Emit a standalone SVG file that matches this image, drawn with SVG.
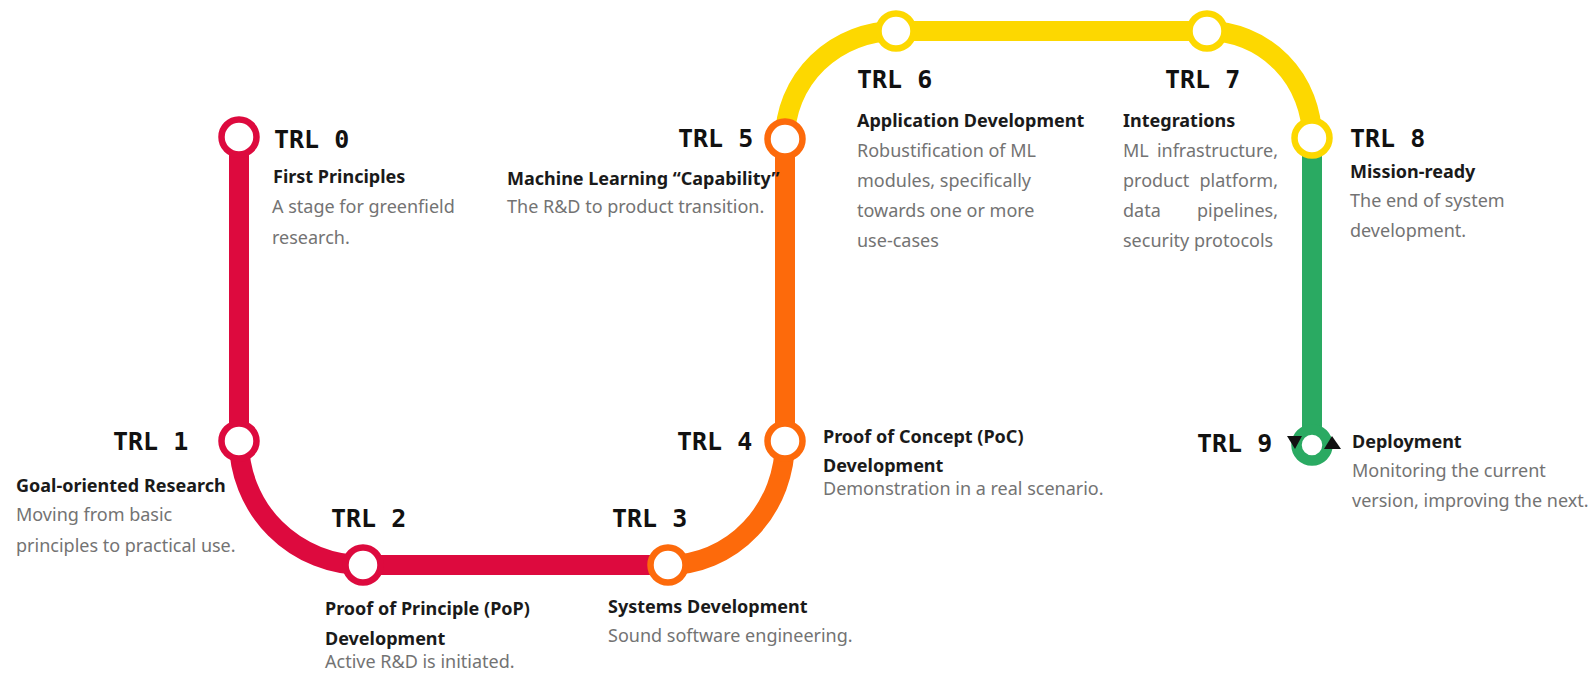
<svg xmlns="http://www.w3.org/2000/svg" width="1593" height="674" viewBox="0 0 1593 674">
<style>
.line{fill:none;stroke-width:20}
.red{stroke:#dd0a3e}
.orange{stroke:#fd6a0b}
.yellow{stroke:#fdd800}
.green{stroke:#2aaa62}
.stop{fill:#ffffff;stroke-width:6.5}
.lbl{font-family:"DejaVu Sans Mono","Liberation Mono",monospace;font-weight:bold;font-size:25px;fill:#111111}
.ttl{font-family:"Noto Sans","Liberation Sans",sans-serif;font-weight:bold;font-size:18px;fill:#1a1a1a}
.dsc{font-family:"Noto Sans","Liberation Sans",sans-serif;font-size:18px;fill:#737373}
.arr{fill:#111111}
</style>
<rect width="1593" height="674" fill="#ffffff"/>
<g id="connectors">
<path class="line red" d="M239,137 V441 A124,124 0 0 0 363,565 H668"/>
<path class="line orange" d="M668,565 A117,124 0 0 0 785,441 V139"/>
<path class="line yellow" d="M785,139 A111,108 0 0 1 896,31 H1207 A105,107 0 0 1 1312,138"/>
<path class="line green" d="M1312,138 V445"/>
</g>
<g id="trl0">
<circle class="stop red" cx="239" cy="137" r="17.5"/>
<text class="lbl" x="274" y="148">TRL 0</text>
<text class="ttl" x="273" y="183">First Principles</text>
<text class="dsc" x="272" y="213">A stage for greenfield</text>
<text class="dsc" x="272" y="244">research.</text>
</g>
<g id="trl1">
<circle class="stop red" cx="239" cy="441" r="17.5"/>
<text class="lbl" x="113" y="450">TRL 1</text>
<text class="ttl" x="16" y="492">Goal-oriented Research</text>
<text class="dsc" x="16" y="521">Moving from basic</text>
<text class="dsc" x="16" y="552">principles to practical use.</text>
</g>
<g id="trl2">
<circle class="stop red" cx="363" cy="565" r="17.5"/>
<text class="lbl" x="331" y="527">TRL 2</text>
<text class="ttl" x="325" y="615">Proof of Principle (PoP)</text>
<text class="ttl" x="325" y="645">Development</text>
<text class="dsc" x="325" y="668">Active R&amp;D is initiated.</text>
</g>
<g id="trl3">
<circle class="stop orange" cx="668" cy="565" r="17.5"/>
<text class="lbl" x="612" y="527">TRL 3</text>
<text class="ttl" x="608" y="613">Systems Development</text>
<text class="dsc" x="608" y="642">Sound software engineering.</text>
</g>
<g id="trl4">
<circle class="stop orange" cx="785" cy="441" r="17.5"/>
<text class="lbl" x="677" y="450">TRL 4</text>
<text class="ttl" x="823" y="443">Proof of Concept (PoC)</text>
<text class="ttl" x="823" y="472">Development</text>
<text class="dsc" x="823" y="495">Demonstration in a real scenario.</text>
</g>
<g id="trl5">
<circle class="stop orange" cx="785" cy="139" r="17.5"/>
<text class="lbl" x="678" y="147">TRL 5</text>
<text class="ttl" x="507" y="185">Machine Learning “Capability”</text>
<text class="dsc" x="507" y="213">The R&amp;D to product transition.</text>
</g>
<g id="trl6">
<circle class="stop yellow" cx="896" cy="31" r="17.5"/>
<text class="lbl" x="857" y="88">TRL 6</text>
<text class="ttl" x="857" y="127">Application Development</text>
<text class="dsc" x="857" y="157">Robustification of ML</text>
<text class="dsc" x="857" y="187">modules, specifically</text>
<text class="dsc" x="857" y="217">towards one or more</text>
<text class="dsc" x="857" y="247">use-cases</text>
</g>
<g id="trl7">
<circle class="stop yellow" cx="1207" cy="31" r="17.5"/>
<text class="lbl" x="1165" y="88">TRL 7</text>
<text class="ttl" x="1123" y="127">Integrations</text>
<text class="dsc" x="1123" y="157">ML</text>
<text class="dsc" x="1278" y="157" text-anchor="end">infrastructure,</text>
<text class="dsc" x="1123" y="187">product</text>
<text class="dsc" x="1278" y="187" text-anchor="end">platform,</text>
<text class="dsc" x="1123" y="217">data</text>
<text class="dsc" x="1278" y="217" text-anchor="end">pipelines,</text>
<text class="dsc" x="1123" y="247">security protocols</text>
</g>
<g id="trl8">
<circle class="stop yellow" cx="1312" cy="138" r="17.5"/>
<text class="lbl" x="1350" y="147">TRL 8</text>
<text class="ttl" x="1350" y="178">Mission-ready</text>
<text class="dsc" x="1350" y="207">The end of system</text>
<text class="dsc" x="1350" y="237">development.</text>
</g>
<g id="trl9">
<circle class="stop green" cx="1312" cy="445" r="15.5" style="stroke-width:10.5"/>
<polygon class="arr" points="1287,436 1302,436 1295,449"/>
<polygon class="arr" points="1324,449 1341,449 1332,436"/>
<text class="lbl" x="1197" y="452">TRL 9</text>
<text class="ttl" x="1352" y="448">Deployment</text>
<text class="dsc" x="1352" y="477">Monitoring the current</text>
<text class="dsc" x="1352" y="507">version, improving the next.</text>
</g>
</svg>
